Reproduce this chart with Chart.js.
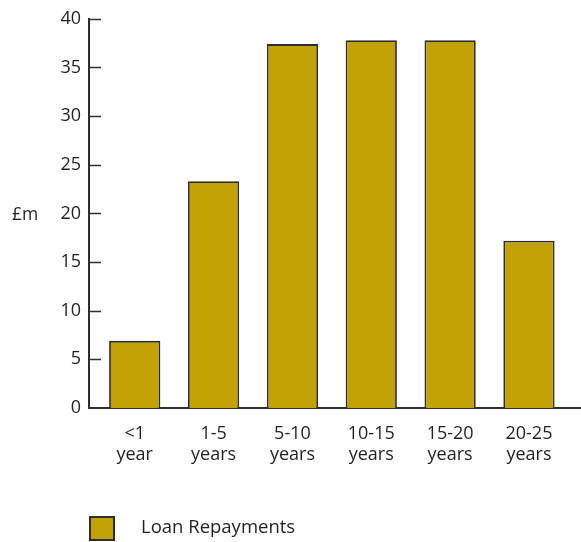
<!DOCTYPE html>
<html>
<head>
<meta charset="utf-8">
<script src="https://cdn.jsdelivr.net/npm/chart.js@4/dist/chart.umd.min.js"></script>
<style>
  html, body { margin: 0; padding: 0; background: #fff; }
  #wrap { width: 581px; height: 542px; }
</style>
</head>
<body>
<div id="wrap"><canvas id="loanChart"></canvas></div>
<script>
const categories = [['<1', 'year'], ['1-5', 'years'], ['5-10', 'years'], ['10-15', 'years'], ['15-20', 'years'], ['20-25', 'years']];
const repayments = [6.9, 23.3, 37.4, 37.8, 37.8, 17.2];
const yTicks = [0, 5, 10, 15, 20, 25, 30, 35, 40];
const seriesName = 'Loan Repayments';
const unitLabel = '£m';

const FONT = '"Open Sans", "Noto Sans", sans-serif';
const TEXT = '#231f20';
const AXIS = '#2e2e2e';
const FILL = '#c2a104';

// short ticks pointing into the plot, unit label, legend
const extras = {
    id: 'extras',
    afterDraw(chart) {
        const ctx = chart.ctx;
        const y = chart.scales.y;
        const left = chart.chartArea.left;
        ctx.save();
        ctx.strokeStyle = AXIS;
        ctx.lineWidth = 1.5;
        yTicks.forEach(v => {
            if (v === 0) return;
            const py = Math.round(y.getPixelForValue(v)) + 0.5;
            ctx.beginPath();
            ctx.moveTo(left, py);
            ctx.lineTo(left + 12, py);
            ctx.stroke();
        });

        ctx.fillStyle = TEXT;
        ctx.font = '17.5px ' + FONT;
        ctx.textAlign = 'left';
        ctx.textBaseline = 'middle';
        ctx.fillText(unitLabel, 12, y.getPixelForValue(20) + 2);

        // legend
        const ds = chart.data.datasets[0];
        ctx.fillStyle = ds.backgroundColor;
        ctx.fillRect(90, 517, 24, 23);
        ctx.lineWidth = 2;
        ctx.strokeStyle = AXIS;
        ctx.strokeRect(90, 517, 24, 23);
        ctx.fillStyle = TEXT;
        ctx.font = '18.5px ' + FONT;
        ctx.fillText(ds.label, 141, 528);
        ctx.restore();
    }
};

new Chart(document.getElementById('loanChart'), {
    type: 'bar',
    data: {
        datasets: [{
            label: seriesName,
            data: repayments.map((v, i) => ({ x: i, y: v })),
            backgroundColor: FILL,
            borderColor: AXIS,
            borderWidth: 1.8,
            barPercentage: 0.65,
            categoryPercentage: 1
        }]
    },
    options: {
        responsive: true,
        maintainAspectRatio: false,
        animation: false,
        layout: { padding: { top: 18, right: 0, left: 0, bottom: 0 } },
        plugins: {
            legend: { display: false },
            tooltip: { enabled: false }
        },
        scales: {
            x: {
                type: 'linear',
                offset: false,
                min: -0.58,
                max: 5.66,
                afterBuildTicks: s => { s.ticks = categories.map((c, i) => ({ value: i })); },
                afterFit: s => { s.height = 134; },
                grid: { display: false, drawTicks: false, offset: false },
                border: { display: true, color: AXIS, width: 2 },
                ticks: {
                    color: TEXT,
                    font: { family: FONT, size: 18, lineHeight: 1.18 },
                    padding: 15,
                    maxRotation: 0,
                    autoSkip: false,
                    callback: v => categories[v]
                }
            },
            y: {
                min: 0,
                max: 40,
                afterBuildTicks: s => { s.ticks = yTicks.map(v => ({ value: v })); },
                afterFit: s => { s.width = 89; },
                grid: { display: false, drawTicks: false },
                border: { display: true, color: AXIS, width: 2 },
                ticks: {
                    color: TEXT,
                    font: { family: FONT, size: 18 },
                    padding: 8
                }
            }
        }
    },
    plugins: [extras]
});
</script>
</body>
</html>
